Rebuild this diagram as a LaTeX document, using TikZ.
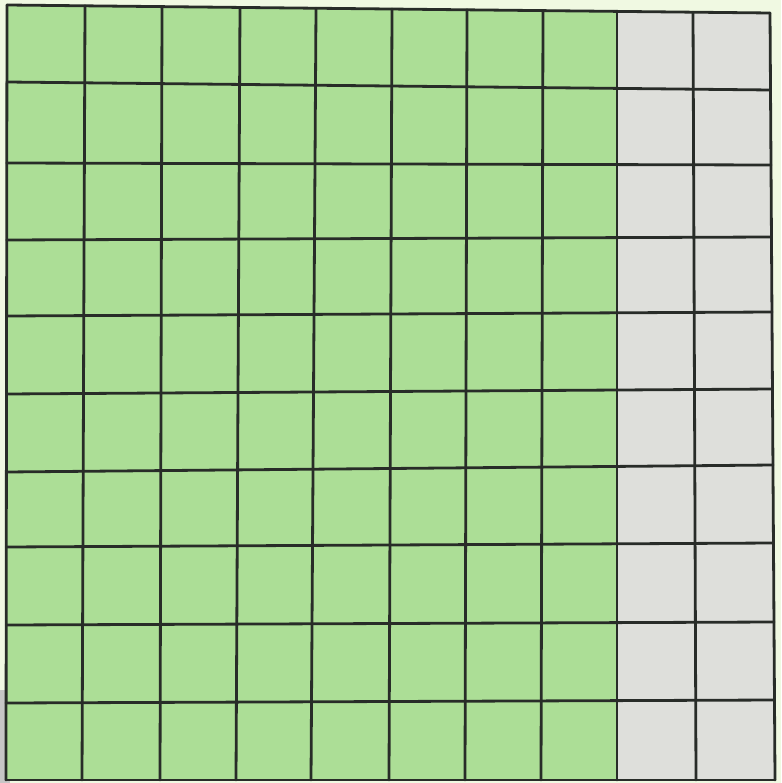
\documentclass[tikz,border=0pt]{standalone}
\begin{document}
\begin{tikzpicture}[x=1pt,y=-1pt,
  gridline/.style={draw=gridink,line width=2.8pt,line cap=round}]
\definecolor{bgpaper}{RGB}{240,249,226}
\definecolor{cellgrey}{RGB}{222,223,219}
\definecolor{pencilgreen}{RGB}{172,222,150}
\definecolor{gridink}{RGB}{40,44,40}
\useasboundingbox (0,0) rectangle (781,783);
\fill[bgpaper] (0,0) rectangle (781,783);
\fill[gray!45] (0,690) rectangle (10,783);
% paper (unshaded cells)
\fill[cellgrey] (7,5) -- (770,13) -- (775,780) -- (6,780) -- cycle;
% green shading over the first eight columns
\fill[pencilgreen] (7,5) -- (617,11.4) -- (617,780) -- (6,780) -- cycle;
% vertical lines
\foreach \xt/\xb/\yt in {7/6/5, 85/82/5.8, 162/160/6.6, 240/236/7.4, 316/311/8.2,
  392/389/9, 467/465/9.8, 543/541/10.6, 617/617/11.4, 693/696/12.2, 770/775/13}
  \draw[gridline] (\xt,\yt) -- (\xb,780);
% horizontal lines
\foreach \yl/\yr/\xl/\xr in {5/13/7/770, 82/90/6.9/770.4, 163/165/6.8/771, 240/237/6.7/771.5,
  316/312/6.6/772, 394/389/6.5/772.5, 472/465/6.4/773, 547/543/6.3/773.5,
  625/622/6.2/774, 703/700/6.1/774.5, 780/780/6/775}
  \draw[gridline] (\xl,\yl) -- (\xr,\yr);
\end{tikzpicture}
\end{document}
